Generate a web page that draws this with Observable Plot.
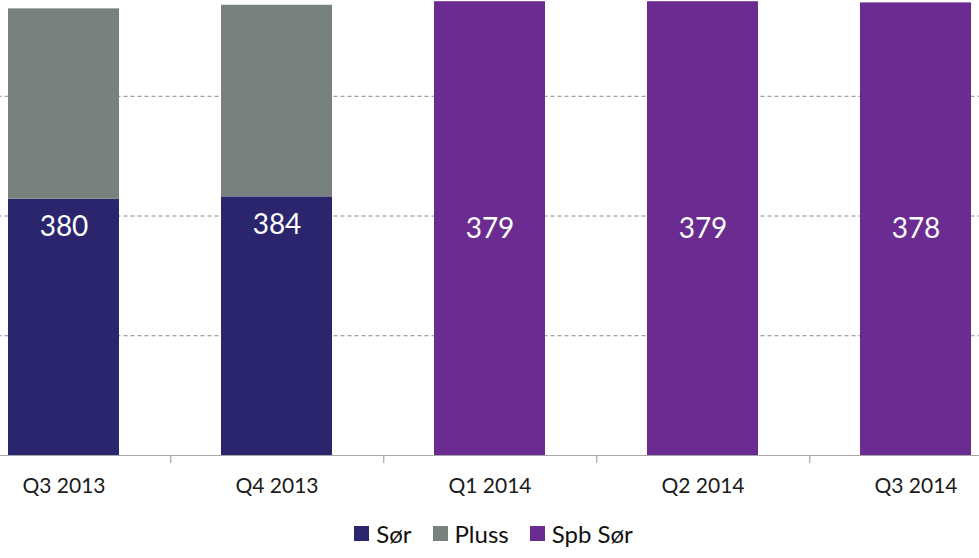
<!DOCTYPE html>
<html>
<head>
<meta charset="utf-8">
<script src="https://cdn.jsdelivr.net/npm/d3@7"></script>
<script src="https://cdn.jsdelivr.net/npm/@observablehq/plot@0.6"></script>
<style>
  html, body { margin: 0; padding: 0; background: #ffffff; }
  #chart { width: 979px; height: 558px; overflow: hidden; font-family: Lato, "Open Sans", sans-serif; }
  #chart svg { display: block; overflow: hidden; }
  .legend { height: 53px; display: flex; justify-content: center; align-items: center; gap: 21px;
            padding-top: 3px; padding-left: 8px; box-sizing: border-box; font-size: 24px; color: #111; }
  .legend .item { display: flex; align-items: center; gap: 7px; }
  .legend .sw { width: 15px; height: 15px; display: inline-block; }
</style>
</head>
<body>
<div id="chart"></div>
<script>
// ---- data ----
const quarters = ["Q3 2013", "Q4 2013", "Q1 2014", "Q2 2014", "Q3 2014"];
const seriesNames = ["Sør", "Pluss", "Spb Sør"];
const seriesColors = ["#2a256d", "#79817f", "#6a2c91"];

const sorQuarters = ["Q3 2013", "Q4 2013"];
const sorValues = [214, 216];
const plussValues = [159, 160];

const spbQuarters = ["Q1 2014", "Q2 2014", "Q3 2014"];
const spbValues = [379, 379, 378];

const sorLabels = [380, 384];
const spbLabels = [379, 379, 378];

const gridValues = [100, 200, 300];

// ---- layout ----
const W = 979, H = 505, ML = -44.5, MR = -44, MT = 0, MB = 50;
const step = (W - ML - MR) / quarters.length;

// ---- tables ----
const stacked = [];
sorQuarters.forEach((q, i) => {
  stacked.push({quarter: q, series: "Sør", value: sorValues[i]});
  stacked.push({quarter: q, series: "Pluss", value: plussValues[i]});
});
spbQuarters.forEach((q, i) => stacked.push({quarter: q, series: "Spb Sør", value: spbValues[i]}));

const sorRows = sorQuarters.map((q, i) => ({quarter: q, value: sorValues[i], label: String(sorLabels[i])}));
const spbRows = spbQuarters.map((q, i) => ({quarter: q, value: spbValues[i], label: String(spbLabels[i])}));

const plot = Plot.plot({
  width: W, height: H,
  marginLeft: ML, marginRight: MR, marginTop: MT, marginBottom: MB,
  style: {fontFamily: "Lato, 'Open Sans', sans-serif", fontSize: "21px", color: "#1a1a1a", background: "#ffffff"},
  x: {domain: quarters, paddingInner: 0.48, paddingOuter: 0.24, tickSize: 0, tickPadding: 23, label: null},
  y: {domain: [0, 380], axis: null},
  color: {domain: seriesNames, range: seriesColors},
  marks: [
    Plot.ruleY(gridValues, {stroke: "#8a8a8a", strokeWidth: 1, strokeDasharray: "4,3"}),
    Plot.barY(stacked, Plot.stackY({x: "quarter", y: "value", fill: "series", z: "series"})),
    Plot.ruleY([0], {stroke: "#a6a6a6", strokeWidth: 1.2}),
    Plot.ruleX(quarters.slice(0, -1), {x: d => d, y1: 0, y2: 0, dx: step / 2, insetBottom: -8, stroke: "#a6a6a6", strokeWidth: 1.2}),
    Plot.text(sorRows, {x: "quarter", y: "value", text: "label", dy: 28, fill: "#ffffff", fontSize: 28}),
    Plot.text(spbRows, {x: "quarter", y: d => d.value / 2, text: "label", fill: "#ffffff", fontSize: 28})
  ]
});

const root = document.getElementById("chart");
root.appendChild(plot);

const legend = document.createElement("div");
legend.className = "legend";
seriesNames.forEach((name, i) => {
  const item = document.createElement("span");
  item.className = "item";
  const sw = document.createElement("span");
  sw.className = "sw";
  sw.style.background = seriesColors[i];
  const label = document.createElement("span");
  label.textContent = name;
  item.appendChild(sw);
  item.appendChild(label);
  legend.appendChild(item);
});
root.appendChild(legend);
</script>
</body>
</html>
